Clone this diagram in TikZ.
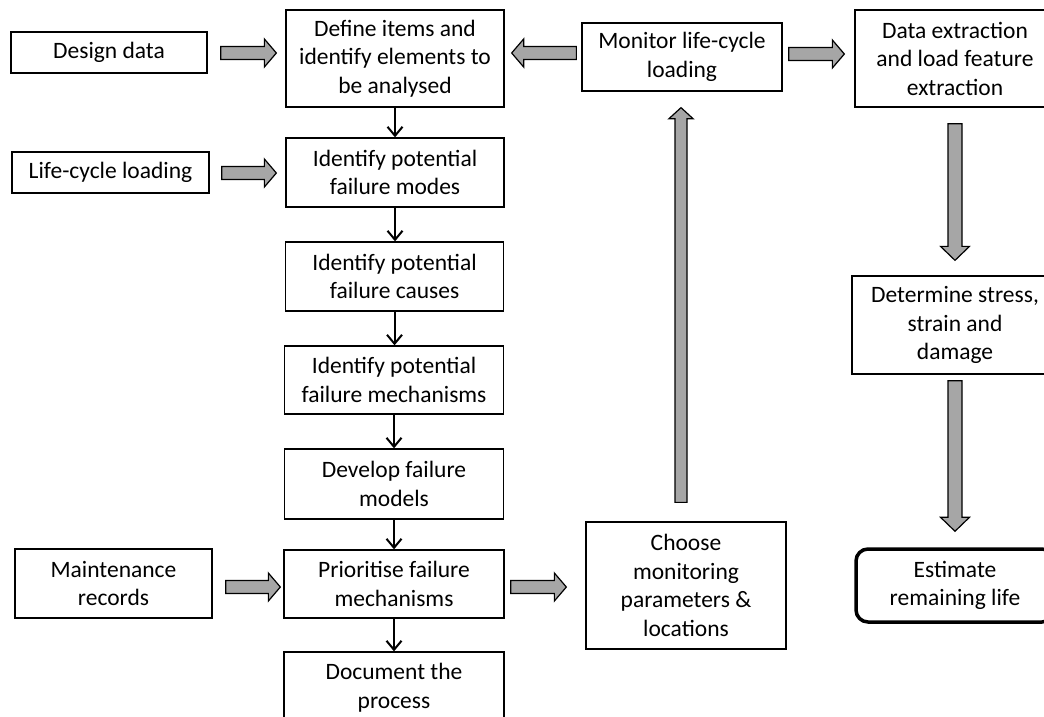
\documentclass[tikz,border=0pt]{standalone}
\usepackage{fontspec}
\setmainfont{Carlito}
\usetikzlibrary{calc,arrows.meta}
\definecolor{fatgray}{RGB}{166,166,166}
% #1 shaft half width, #2 head half width, #3 head length, #4 from, #5 to
\newcommand\fatarr[5]{%
  \draw[fatstyle] let \p1=(#4), \p2=(#5),
    \n1={atan2(\y2-\y1,\x2-\x1)}, \n2={veclen(\x2-\x1,\y2-\y1)} in
    ([shift={(\p1)},rotate=\n1]0pt,#1pt) --
    ([shift={(\p1)},rotate=\n1]\n2-#3pt,#1pt) --
    ([shift={(\p1)},rotate=\n1]\n2-#3pt,#2pt) --
    ([shift={(\p1)},rotate=\n1]\n2,0pt) --
    ([shift={(\p1)},rotate=\n1]\n2-#3pt,-#2pt) --
    ([shift={(\p1)},rotate=\n1]\n2-#3pt,-#1pt) --
    ([shift={(\p1)},rotate=\n1]0pt,-#1pt) -- cycle;}
\tikzset{
  flowbox/.style 2 args={draw, line width=1.3pt, align=center, inner sep=0pt,
    minimum width=#1pt, minimum height=#2pt,
    font=\fontsize{23.5}{28.5}\selectfont},
  endbox/.style 2 args={flowbox={#1}{#2}, line width=3.5pt, rounded corners=12pt},
  thinarr/.style={line width=2pt, -{Straight Barb[length=9pt,width=15pt,line width=2pt]}},
  fatstyle/.style={draw=black, line width=1.2pt, fill=fatgray, line join=miter}
}
\begin{document}
\begin{tikzpicture}[x=1pt,y=-1pt]
\useasboundingbox (0,0) rectangle (1044,717);
% left inputs
\node[flowbox={196}{41}] (design) at (109,52.5) {Design data};
\node[flowbox={197}{41}] (life) at (110.5,172.5) {Life-cycle loading};
\node[flowbox={197}{69}] (maint) at (113.5,583.5) {Maintenance\\records};
% main column
\node[flowbox={218}{97}] (define) at (395,58.5) {Define items and\\identify elements to\\be analysed};
\node[flowbox={218}{69}] (modes) at (395,172.5) {Identify potential\\failure modes};
\node[flowbox={218}{69}] (causes) at (394.5,276.5) {Identify potential\\failure causes};
\node[flowbox={219}{68}] (mech) at (394,380) {Identify potential\\failure mechanisms};
\node[flowbox={219}{70}] (develop) at (394,484) {Develop failure\\models};
\node[flowbox={220}{68}] (prior) at (394,584) {Prioritise failure\\mechanisms};
\node[flowbox={220}{71}] (document) at (394,687.5) {Document the\\process};
% middle column
\node[flowbox={200}{68}] (monitor) at (682,57) {Monitor life-cycle\\loading};
\node[flowbox={200}{127}] (choose) at (686,585.5) {Choose\\monitoring\\parameters \&\\locations};
% right column
\node[flowbox={200}{97}] (extract) at (955,58.5) {Data extraction\\and load feature\\extraction};
\node[flowbox={206}{98}] (determine) at (955,325) {Determine stress,\\strain and\\damage};
\node[endbox={198}{73}] (estimate) at (955,585.5) {Estimate\\remaining life};
% thin arrows
\draw[thinarr] (define.south) -- (define.south |- modes.north);
\draw[thinarr] (modes.south) -- (modes.south |- causes.north);
\draw[thinarr] (causes.south) -- (causes.south |- mech.north);
\draw[thinarr] (mech.south) -- (mech.south |- develop.north);
\draw[thinarr] (develop.south) -- (develop.south |- prior.north);
\draw[thinarr] (prior.south) -- (prior.south |- document.north);
% fat arrow end points
\coordinate (a1s) at ($(design.east)+(13,0.5)$);
\coordinate (a1e) at ($(define.west |- design.east)+(-9,0.5)$);
\coordinate (a2s) at ($(life.east)+(12,0.5)$);
\coordinate (a2e) at ($(modes.west |- life.east)+(-9,0.5)$);
\coordinate (a3s) at ($(maint.east)+(13,3.5)$);
\coordinate (a3e) at ($(prior.west |- maint.east)+(-3,3.5)$);
\coordinate (a4s) at ($(monitor.west)+(-5,-4)$);
\coordinate (a4e) at ($(define.east |- monitor.west)+(7,-4)$);
\coordinate (a5s) at ($(monitor.east)+(6,-3)$);
\coordinate (a5e) at ($(extract.west |- monitor.east)+(-10,-3)$);
\coordinate (a6s) at ($(prior.east)+(6,3)$);
\coordinate (a6e) at ($(choose.west |- prior.east)+(-19,3)$);
\coordinate (a7s) at ($(choose.north -| monitor.south)+(-1,-19)$);
\coordinate (a7e) at ($(monitor.south)+(-1,16)$);
\coordinate (a8s) at ($(extract.south)+(0,16)$);
\coordinate (a8e) at ($(determine.north)+(0,-15)$);
\coordinate (a9s) at ($(determine.south)+(0,6)$);
\coordinate (a9e) at ($(estimate.north)+(0,-16)$);
% fat arrows
\fatarr{6.5}{14}{12}{a1s}{a1e}
\fatarr{6.5}{14}{12}{a2s}{a2e}
\fatarr{6.5}{14}{12}{a3s}{a3e}
\fatarr{6.5}{14}{12}{a4s}{a4e}
\fatarr{6.5}{14}{12}{a5s}{a5e}
\fatarr{6.5}{14}{12}{a6s}{a6e}
\fatarr{6}{12}{11}{a7s}{a7e}
\fatarr{7}{14.5}{14}{a8s}{a8e}
\fatarr{7}{14.5}{14}{a9s}{a9e}
\end{tikzpicture}
\end{document}
